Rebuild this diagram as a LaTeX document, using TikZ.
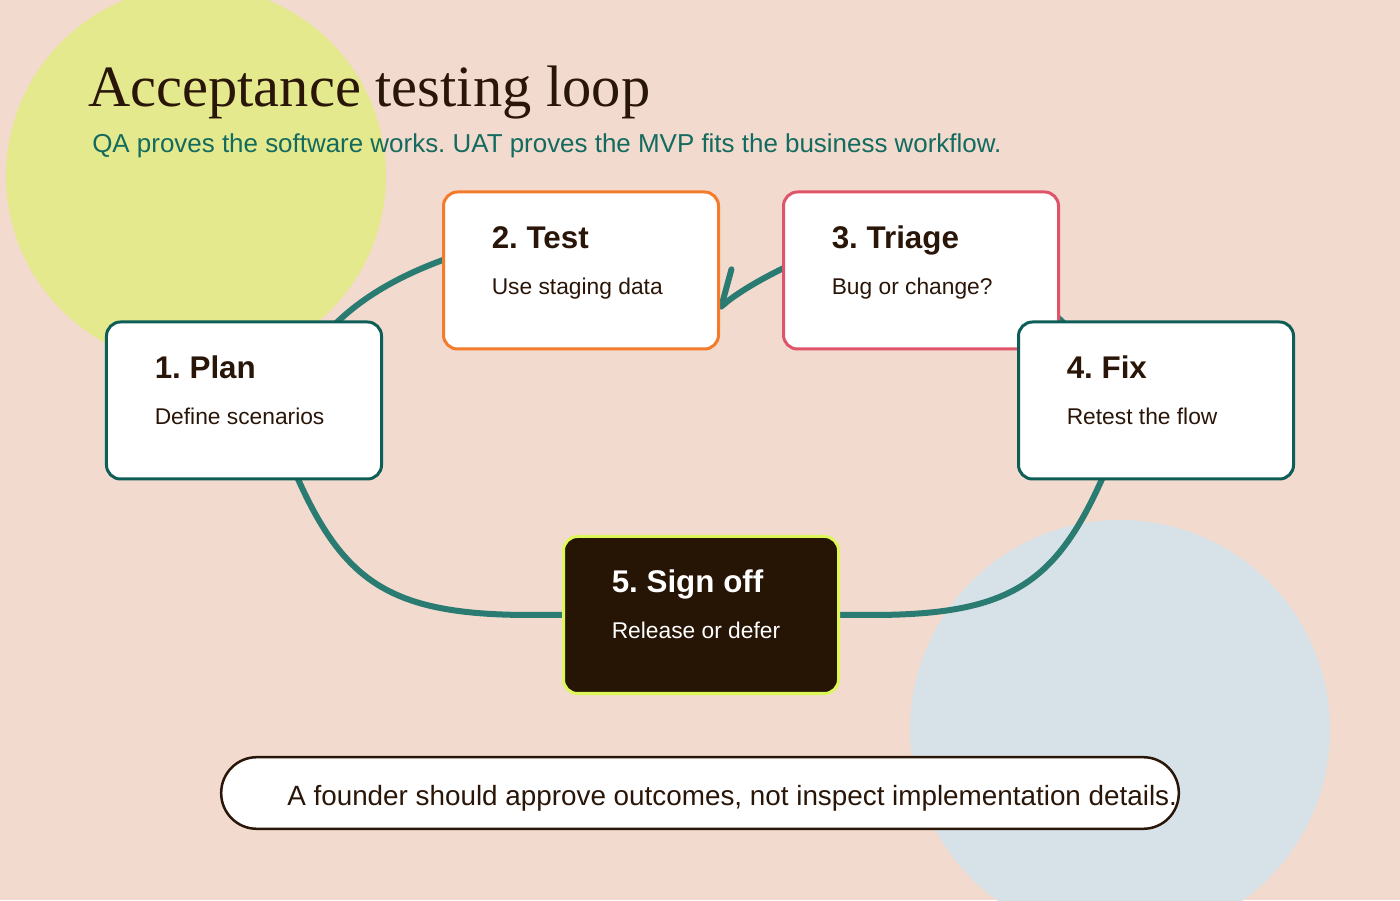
\documentclass[tikz,border=0pt]{standalone}
\usepackage{fontspec}
\setmainfont{Liberation Sans}
\newfontfamily\headfont{Liberation Serif}
\usepackage{xcolor}
\usepackage{tikz}
\usetikzlibrary{arrows.meta, positioning, calc}
\definecolor{lpeach}{HTML}{F2DACE}
\definecolor{llime}{HTML}{E4E98E}
\definecolor{lsky}{HTML}{D7E2E8}
\definecolor{lteal}{HTML}{2A7B72}
\definecolor{ldeep}{HTML}{0E5E57}
\definecolor{lsub}{HTML}{136A5E}
\definecolor{lorange}{HTML}{F47B2A}
\definecolor{lrose}{HTML}{E0546A}
\definecolor{lbrown}{HTML}{2A1608}
\definecolor{lnight}{HTML}{261405}
\definecolor{lglow}{HTML}{DDF65A}
\pgfdeclarelayer{bg}
\pgfdeclarelayer{links}
\pgfsetlayers{bg,links,main}
\frenchspacing
\tikzset{
  stage/.style={draw=ldeep, fill=white, line width=0.75mm, rounded corners=3.5mm,
    minimum width=68.75mm, minimum height=39.25mm, inner sep=0pt},
  stagetitle/.style={anchor=base west, inner sep=0pt, text=lbrown,
    font=\fontsize{22.3pt}{26pt}\selectfont\bfseries},
  stagetext/.style={anchor=base west, inner sep=0pt, text=lbrown,
    font=\fontsize{16.2pt}{19pt}\selectfont},
  loopline/.style={draw=lteal, line width=1.5mm, line cap=round}
}

\begin{document}
\begin{tikzpicture}[x=0.25mm, y=0.25mm]

  %% backdrop and the two discs
  \begin{pgfonlayer}{bg}
    \fill[lpeach] (0,0) rectangle (1400,900);
    \begin{scope}
      \clip (0,0) rectangle (1400,900);
      \fill[llime] (196,724) circle (190);
      \fill[lsky] (1120,170) circle (210);
    \end{scope}
  \end{pgfonlayer}
  \useasboundingbox (0,0) rectangle (1400,900);

  %% heading
  \node[anchor=base west, inner sep=0pt, text=lbrown,
    font=\headfont\fontsize{41.6pt}{48pt}\selectfont] (title) at (88,793)
    {Acceptance testing loop};
  \node[anchor=base west, inner sep=0pt, text=lsub,
    font=\fontsize{18.45pt}{22pt}\selectfont] (subtitle) at (92,747)
    {QA proves the software works. UAT proves the MVP fits the business workflow.};

  %% stages of the loop
  \node[stage] (plan) at (244,499.5) {};
  \node[stage, draw=lorange] (test) at (581,629.5) {};
  \node[stage, draw=lrose] (triage) at (921,629.5) {};
  \node[stage] (fix) at (1156,499.5) {};
  \node[stage, draw=lglow, fill=lnight] (signoff) at (701,285) {};

  \foreach \s/\t/\d in {plan/1. Plan/Define scenarios,
                        test/2. Test/Use staging data,
                        triage/3. Triage/Bug or change?,
                        fix/4. Fix/Retest the flow}{
    \node[stagetitle] (\s-title) at ($(\s.north west)+(49.5,-58)$) {\t};
    \node[stagetext] (\s-text) at ($(\s.north west)+(49.5,-104)$) {\d};
  }
  \node[stagetitle, text=white] (signoff-title) at ($(signoff.north west)+(49.5,-58)$) {5. Sign off};
  \node[stagetext, text=white] (signoff-text) at ($(signoff.north west)+(49.5,-104)$) {Release or defer};

  %% loop connectors, kept under the boxes
  \begin{pgfonlayer}{links}
    \draw[loopline] (signoff) -- ($(signoff.west)+(-31.5,0)$)
      .. controls +(-145,0) and +(50,-120) .. ($(plan.south)+(46,20)$);
    \draw[loopline] ($(plan.north)+(76,-20)$)
      .. controls +(35,42) and +(-57,-19) .. ($(test.west)+(18,16.5)$);
    \draw[loopline, -{Straight Barb[harpoon, swap, round, length=8mm, width=10.75mm]}]
      ($(triage.west)+(22,11.5)$)
      .. controls +(-25,-10) and +(22,19) .. ($(test.east)+(-1,-38)$);
    \draw[loopline] ($(triage.east)+(-120,16.5)$)
      .. controls +(57,-19) and +(-35,42) .. ($(fix.north)+(-76,-20)$);
    \draw[loopline] ($(fix.south)+(-46,20)$)
      .. controls +(-50,-120) and +(145,0) .. ($(signoff.east)+(31.5,0)$) -- (signoff);
  \end{pgfonlayer}

  %% closing note
  \node[draw=lbrown, fill=white, line width=0.625mm, rounded corners=8.9mm,
    minimum width=239.4mm, minimum height=17.9mm, inner sep=0pt] (note) at (700,107) {};
  \node[anchor=base west, inner sep=0pt, text=lbrown,
    font=\fontsize{19.8pt}{24pt}\selectfont] (note-text) at (287,94)
    {A founder should approve outcomes, not inspect implementation details.};

\end{tikzpicture}
\end{document}
